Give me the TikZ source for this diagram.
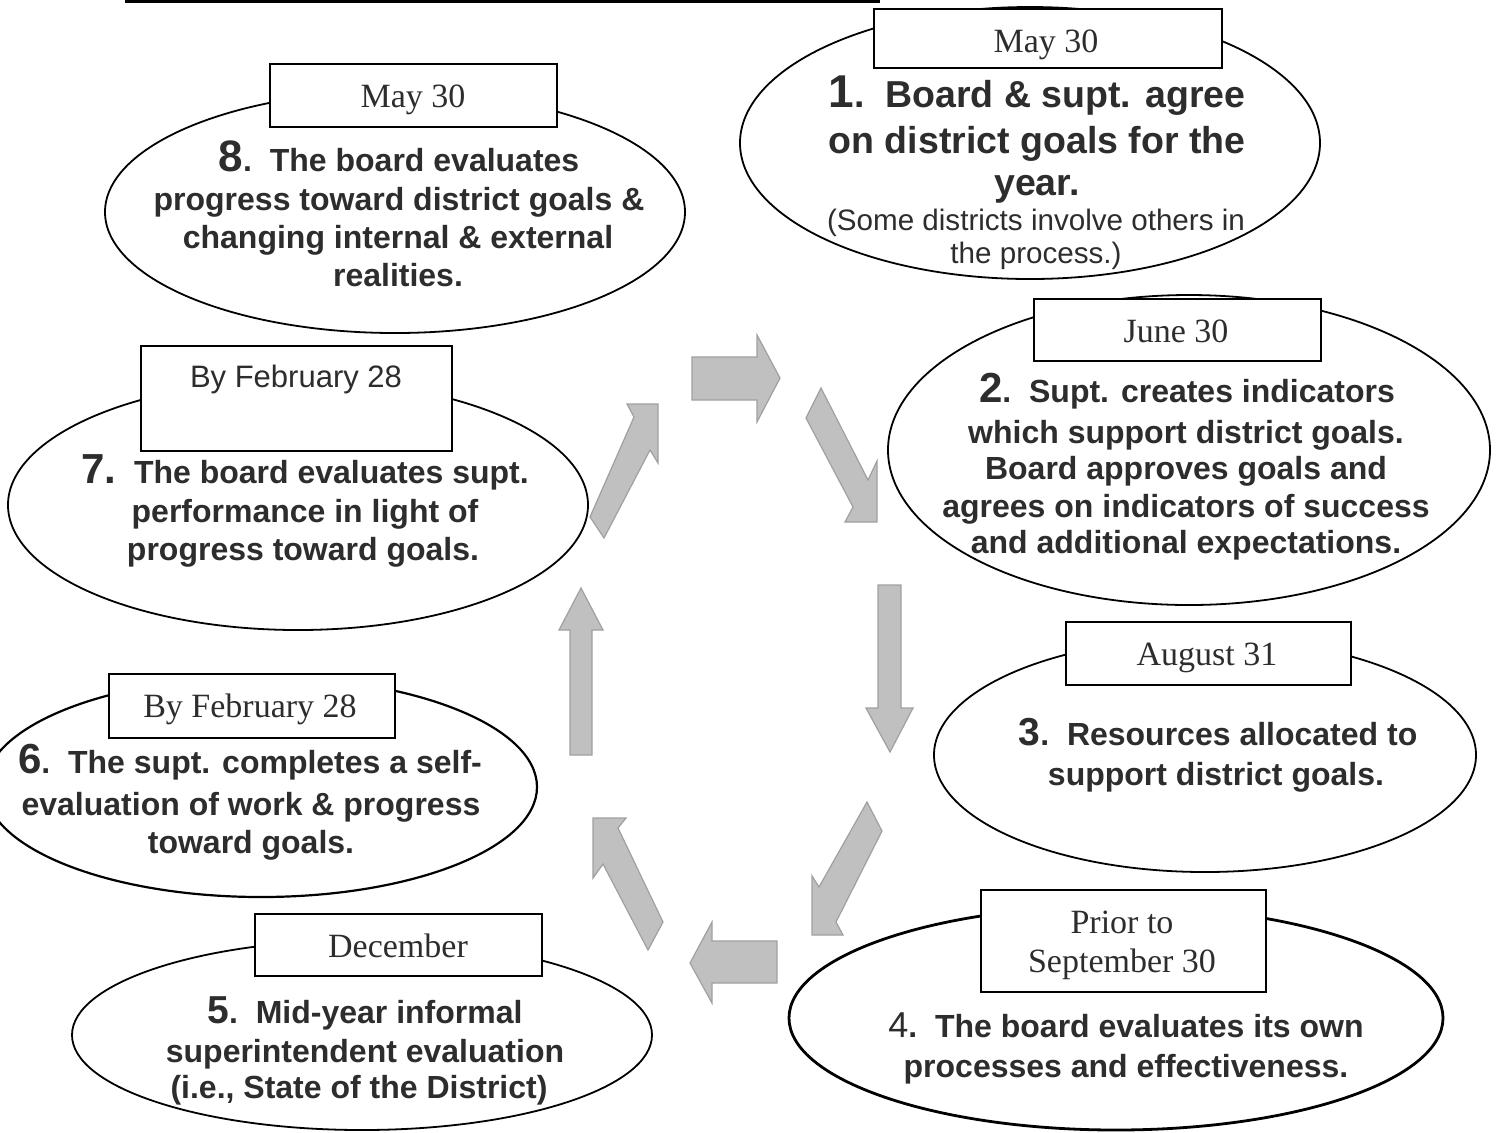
\documentclass[tikz,border=0pt]{standalone}
\usepackage{fontspec}
\setmainfont{Liberation Serif}
\setsansfont{Liberation Sans}
\usetikzlibrary{shapes.geometric}
\definecolor{txt}{RGB}{45,45,45}
\definecolor{arrfill}{RGB}{192,192,192}
\definecolor{arredge}{RGB}{160,160,160}
\newcommand{\BigNum}[2]{{\fontsize{#1}{#1}\selectfont #2}}
\tikzset{
  ell/.style={ellipse, draw=black, line width=0.9pt, inner sep=0pt, outer sep=0pt},
  datebox/.style={rectangle, draw=black, fill=white, line width=0.75pt, inner sep=0pt},
  datetxt/.style={font=\rmfamily\fontsize{17}{19.5}\selectfont, text=txt, anchor=base, inner sep=0pt},
  datesans/.style={font=\sffamily\fontsize{15.5}{18}\selectfont, text=txt, anchor=base, inner sep=0pt},
  bodytxt/.style={font=\sffamily\bfseries\fontsize{16}{19}\selectfont, text=txt, anchor=base, inner sep=0pt},
  bodybig/.style={font=\sffamily\bfseries\fontsize{18.75}{23}\selectfont, text=txt, anchor=base, inner sep=0pt},
  bodysmall/.style={font=\sffamily\fontsize{14.8}{16.5}\selectfont, text=txt, anchor=base, inner sep=0pt},
  blockarrow/.style={fill=arrfill, draw=arredge, line width=0.6pt, line join=miter},
}
\begin{document}
\begin{tikzpicture}[x=0.5pt, y=-0.5pt]
\useasboundingbox (0,0) rectangle (1499,1132);
\clip (0,0) rectangle (1499,1132);
\fill[white] (0,0) rectangle (1499,1132);

% top rule (cut-off title underline)
\coordinate (ruleL) at (125,1.5);
\coordinate (ruleR) at (880,1.5);
\draw[line width=1.6pt] (ruleL) -- (ruleR);

% ellipses
\node[ell, minimum width=290pt, minimum height=136pt] (e1) at (1030,143) {};
\node[ell, minimum width=301pt, minimum height=155pt] (e2) at (1189,450) {};
\node[ell, minimum width=271pt, minimum height=117pt] (e3) at (1205,755) {};
\node[ell, line width=1.4pt, minimum width=327pt, minimum height=112pt] (e4) at (1116,1018) {};
\node[ell, minimum width=290pt, minimum height=95pt] (e5) at (362,1035) {};
\node[ell, line width=1.1pt, minimum width=276pt, minimum height=110pt] (e6) at (261,787) {};
\node[ell, minimum width=290pt, minimum height=125pt] (e7) at (298,505) {};
\node[ell, minimum width=290pt, minimum height=121pt] (e8) at (395,212) {};

% date boxes
\node[datebox, minimum width=174pt, minimum height=29.5pt] (b1) at (1048,38.5) {};
\node[datebox, minimum width=143.5pt, minimum height=31pt] (b2) at (1177.5,330) {};
\node[datebox, minimum width=142.5pt, minimum height=31.5pt] (b3) at (1208.5,653.5) {};
\node[datebox, minimum width=142.5pt, minimum height=51pt] (b4) at (1123.5,941) {};
\node[datebox, minimum width=143.5pt, minimum height=31pt] (b5) at (398.5,945) {};
\node[datebox, minimum width=143pt, minimum height=32pt] (b6) at (252,706) {};
\node[datebox, minimum width=155.5pt, minimum height=52.5pt] (b7) at (296.5,398.5) {};
\node[datebox, minimum width=143.5pt, minimum height=31.5pt] (b8) at (413.5,95.5) {};

% date texts
\node[datetxt] (d1) at (1046,52) {May 30};
\node[datetxt] (d2) at (1176,342) {June 30};
\node[datetxt] (d3) at (1207,665) {August 31};
\node[datetxt] (d4a) at (1122,933) {Prior to};
\node[datetxt] (d4b) at (1122,972) {September 30};
\node[datetxt] (d5) at (398,957) {December};
\node[datetxt] (d6) at (250,717) {By February 28};
\node[datesans] (d7) at (296,387) {By February 28};
\node[datetxt] (d8) at (413,107) {May 30};

% ellipse 1
\node[bodybig] (t1a) at (1037,107) {\BigNum{23}{1}.\ \ Board \& supt. agree};
\node[bodybig] (t1b) at (1037,153) {on district goals for the};
\node[bodybig] (t1c) at (1037,195) {year.};
\node[bodysmall] (t1d) at (1036,230) {(Some districts involve others in};
\node[bodysmall] (t1e) at (1036,263) {the process.)};

% ellipse 2
\node[bodytxt] (t2a) at (1187,402) {\BigNum{21}{2}.\ \ Supt. creates indicators};
\node[bodytxt] (t2b) at (1186,443) {which support district goals.};
\node[bodytxt] (t2c) at (1186,479) {Board approves goals and};
\node[bodytxt] (t2d) at (1186,517) {agrees on indicators of success};
\node[bodytxt] (t2e) at (1186,553) {and additional expectations.};

% ellipse 3
\node[bodytxt] (t3a) at (1218,745) {\BigNum{19.5}{3}.\ \ Resources allocated to};
\node[bodytxt] (t3b) at (1216,785) {support district goals.};

% ellipse 4
\node[bodytxt] (t4a) at (1126,1037) {{\mdseries\BigNum{18}{4}}.\ \ The board evaluates its own};
\node[bodytxt] (t4b) at (1126,1077) {processes and effectiveness.};

% ellipse 5
\node[bodytxt] (t5a) at (365,1023) {\BigNum{19.5}{5}.\ \ Mid-year informal};
\node[bodytxt] (t5b) at (365,1062) {superintendent evaluation};
\node[bodytxt] (t5c) at (359,1098) {(i.e., State of the District)};

% ellipse 6
\node[bodytxt] (t6a) at (250,773) {\BigNum{21}{6}.\ \ The supt. completes a self-};
\node[bodytxt] (t6b) at (251,815) {evaluation of work \& progress};
\node[bodytxt] (t6c) at (251,853) {toward goals.};

% ellipse 7
\node[bodytxt] (t7a) at (305,483) {\BigNum{21}{7.}\ \ The board evaluates supt.};
\node[bodytxt] (t7b) at (305,522) {performance in light of};
\node[bodytxt] (t7c) at (303,560) {progress toward goals.};

% ellipse 8
\node[bodytxt] (t8a) at (399,171) {\BigNum{22}{8}.\ \ The board evaluates};
\node[bodytxt] (t8b) at (399,210) {progress toward district goals \&};
\node[bodytxt] (t8c) at (398,248) {changing internal \& external};
\node[bodytxt] (t8d) at (398,286) {realities.};

% block arrows (clockwise cycle)
% right, top
\filldraw[blockarrow] (692,357) -- (757,357) -- (757,335) -- (780,378) -- (757,422) -- (757,400) -- (692,400) -- cycle;
% down-right
\filldraw[blockarrow] (821,388) -- (868,480) -- (877,461) -- (877,522) -- (845,522) -- (853,507) -- (806,418) -- cycle;
% down
\filldraw[blockarrow] (878,585) -- (901,585) -- (901,708) -- (913,708) -- (890,752) -- (866,708) -- (878,708) -- cycle;
% down-left
\filldraw[blockarrow] (867,802) -- (882,831) -- (836,922) -- (843,935) -- (812,935) -- (812,876) -- (819,887) -- cycle;
% left, bottom
\filldraw[blockarrow] (777,941) -- (777,983) -- (712,983) -- (712,1003) -- (690,963) -- (712,922) -- (712,941) -- cycle;
% up-left
\filldraw[blockarrow] (593,818) -- (626,818) -- (618,828) -- (663,922) -- (648,950) -- (603,864) -- (593,878) -- cycle;
% up
\filldraw[blockarrow] (570,755) -- (570,630) -- (559,630) -- (581,588) -- (603,630) -- (592,630) -- (592,755) -- cycle;
% up-right
\filldraw[blockarrow] (590,517) -- (634,417) -- (627,404) -- (658,404) -- (658,463) -- (650,450) -- (604,538) -- cycle;
\end{tikzpicture}
\end{document}
